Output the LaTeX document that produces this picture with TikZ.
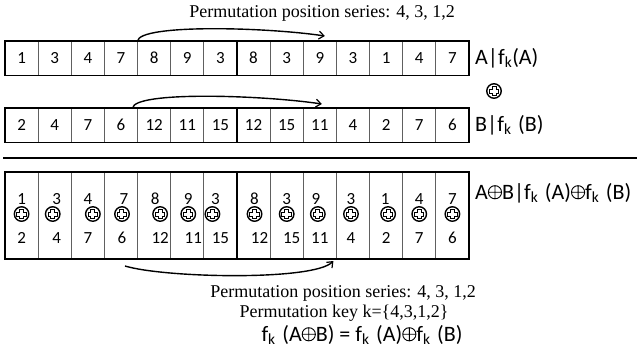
\documentclass[tikz,border=0pt]{standalone}
\usepackage{fontspec}
\setmainfont{Liberation Serif}
\newfontfamily\calib{Carlito}
\usetikzlibrary{arrows.meta}

\tikzset{
  cellbox/.style={draw=gray!75!black, line width=0.7pt, minimum width=33.14pt,
    minimum height=#1, inner sep=0pt, outer sep=0pt, anchor=north west},
  frame/.style={line width=1.3pt},
  numtext/.style={inner sep=0pt, font=\calib\fontsize{17}{20}\selectfont},
  labeltext/.style={inner sep=0pt, anchor=west, font=\calib\fontsize{22}{26}\selectfont},
  serifnote/.style={inner sep=0pt, font=\fontsize{18}{20}\selectfont},
  permarrow/.style={line width=1.4pt, -{Straight Barb[length=5pt,width=8pt,line width=1.2pt]}},
  xorsym/.style={circle, draw, line width=1.4pt, minimum size=14.5pt, inner sep=0pt,
    path picture={
      \draw[shift={(path picture bounding box.center)}, line width=1pt, fill=white]
        (-2,-4.7) -- (2,-4.7) -- (2,-2) -- (4.7,-2) -- (4.7,2) -- (2,2)
        -- (2,4.7) -- (-2,4.7) -- (-2,2) -- (-4.7,2) -- (-4.7,-2) -- (-2,-2) -- cycle;
    }},
}
% thin circled plus used inside the formulas, as tall as a capital letter
\newcommand{\xo}{\tikz[baseline=0pt, x=1pt, y=1pt]
  \draw[line width=0.9pt] (7.5,7) circle[radius=6.6] (0.9,7) -- (14.1,7) (7.5,0.4) -- (7.5,13.6);}
\newcommand{\sk}{\textsubscript{k}\hspace{0.3em}}

\begin{document}
\begin{tikzpicture}[x=1pt, y=-1pt]
\useasboundingbox (0,0) rectangle (644,354);

% row A and row B
\foreach \n [count=\i] in {1,3,4,7,8,9,3,8,3,9,3,1,4,7}
  \node[cellbox=34.5pt] (a\i) at ({5+(\i-1)*33.14},41) {};
\foreach \n [count=\i] in {1,3,4,7,8,9,3,8,3,9,3,1,4,7}
  \node[numtext] (an\i) at (a\i.center) {\n};
\foreach \n [count=\i] in {2,4,7,6,12,11,15,12,15,11,4,2,7,6}
  \node[cellbox=34.5pt] (b\i) at ({5+(\i-1)*33.14},108) {};
\foreach \n [count=\i] in {2,4,7,6,12,11,15,12,15,11,4,2,7,6}
  \node[numtext] (bn\i) at (b\i.center) {\n};

\draw[frame] (a1.north west) rectangle (a14.south east);
\draw[frame] (a7.north east) -- (a7.south east);
\draw[frame] (b1.north west) rectangle (b14.south east);
\draw[frame] (b7.north east) -- (b7.south east);

% permutation arrows above the rows
\coordinate (aend) at ([xshift=5pt, yshift=5pt]a10.north);
\draw[permarrow] (a4.north east) .. controls +(2,-17) and +(-60,-9) .. (aend);
\coordinate (bstart) at ([xshift=-5pt]b4.north east);
\coordinate (bend) at ([xshift=2pt, yshift=4pt]b10.north);
\draw[permarrow] (bstart) .. controls +(2,-17) and +(-60,-9) .. (bend);

\node[serifnote] (title) at (322,13) {Permutation position series: 4, 3, 1,2};

\node[labeltext] (la) at (475,58) {A|f\textsubscript{k}(A)};
\node[xorsym] (xab) at (494,91) {};
\node[labeltext] (lb) at (475,125) {B|f\sk(B)};

% separator
\coordinate (sepl) at (3,158);
\coordinate (sepr) at (637,158);
\draw[line width=2pt] (sepl) -- (sepr);

% combined row: top operand, xor sign, bottom operand (with small x offsets)
\foreach \vtop/\otop/\osym/\vbot/\obot [count=\i] in {
  1/0/0/2/0, 3/2/-2/4/2, 4/0/5/7/0, 7/3/1/6/1, 8/1/6/12/6, 9/1/1/11/6, 3/-5/-8/15/0,
  8/1/1/12/6, 3/0/0/15/5, 9/-4/-2/11/0, 3/-2/-2/4/-2, 1/-1/2/2/0, 4/0/0/7/0, 7/0/0/6/0}{
  \pgfmathsetmacro{\cx}{5+(\i-0.5)*33.14}
  \node[cellbox=87pt] (c\i) at ({5+(\i-1)*33.14},172) {};
  \node[numtext] (ct\i) at ({\cx+\otop},199) {\vtop};
  \node[xorsym] (cp\i) at ({\cx+\osym},214) {};
  \node[numtext] (cb\i) at ({\cx+\obot},238) {\vbot};
}
\draw[frame] (c1.north west) rectangle (c14.south east);
\draw[frame] (c7.north east) -- (c7.south east);

\node[labeltext] (lc) at (475,193) {A\xo B|f\sk(A)\xo f\sk(B)};

% permutation arrow below the combined row
\coordinate (cstart) at ([xshift=4pt, yshift=-7pt]c4.south);
\coordinate (cend) at ([xshift=-3pt, yshift=-2pt]c10.south east);
\draw[permarrow] (cstart) .. controls +(40,12) and +(-20,20) .. (cend);

\node[serifnote] (note1) at (343,293) {Permutation position series: 4, 3, 1,2};
\node[serifnote] (note2) at (344,313) {Permutation key k=\{4,3,1,2\}};
\node[labeltext, anchor=center] (law) at (362,335)
  {f\sk(A\xo B) = f\sk(A)\xo f\sk(B)};
\end{tikzpicture}
\end{document}
